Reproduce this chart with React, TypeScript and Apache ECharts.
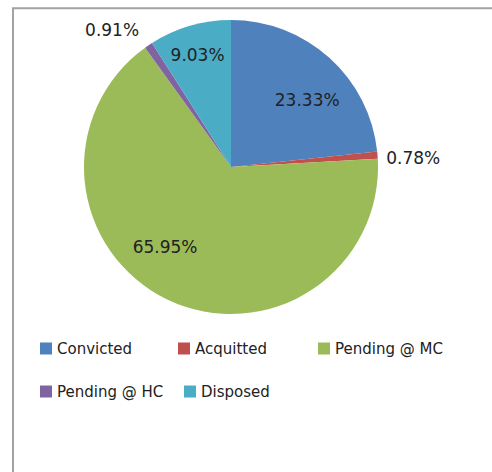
import React, { useEffect, useRef } from "react";
import * as echarts from "echarts";

const categories = ["Convicted", "Acquitted", "Pending @ MC", "Pending @ HC", "Disposed"];
const shares = [23.33, 0.78, 65.95, 0.91, 9.03];
const colors = ["#4F81BD", "#C0504D", "#9BBB59", "#8064A2", "#4BACC6"];
const labelOffsets = [[25, -10], [106, -3], [-33, 11], [-76, -74], [-12, -39]];
const legendPlaces = [
  [40, 341], [178, 341], [318, 341], [40, 384], [184, 384],
];

export default function App() {
  const ref = useRef<HTMLDivElement>(null);
  useEffect(() => {
    document.body.style.margin = "0";
    const chart = echarts.init(ref.current!, null, { renderer: "svg" });
    const font = "DejaVu Sans";
    chart.setOption({
      animation: false,
      backgroundColor: "#ffffff",
      graphic: [
        {
          type: "rect",
          shape: { x: 13, y: 8.3, width: 600, height: 600 },
          style: { fill: "none", stroke: "#a3a3a3", lineWidth: 2 },
          silent: true,
        },
      ],
      legend: categories.map((c, i) => ({
        data: [c],
        left: legendPlaces[i][0],
        top: legendPlaces[i][1],
        padding: 0,
        icon: "rect",
        itemWidth: 12,
        itemHeight: 12,
        itemGap: 5,
        selectedMode: false,
        textStyle: { fontFamily: font, fontSize: 15, color: "#222" },
      })),
      series: [
        {
          type: "pie",
          center: [231, 167],
          radius: [0, 147],
          startAngle: 90,
          clockwise: true,
          avoidLabelOverlap: false,
          labelLine: { show: false },
          itemStyle: { borderWidth: 0 },
          emphasis: { disabled: true },
          data: categories.map((c, i) => ({
            name: c,
            value: shares[i],
            itemStyle: { color: colors[i] },
            label: {
              show: true,
              position: "inside",
              offset: labelOffsets[i],
              formatter: shares[i].toFixed(2) + "%",
              fontFamily: font,
              fontSize: 17,
              color: "#222",
            },
          })),
        },
      ],
    });
    return () => chart.dispose();
  }, []);
  return <div ref={ref} style={{ width: 492, height: 472 }} />;
}
